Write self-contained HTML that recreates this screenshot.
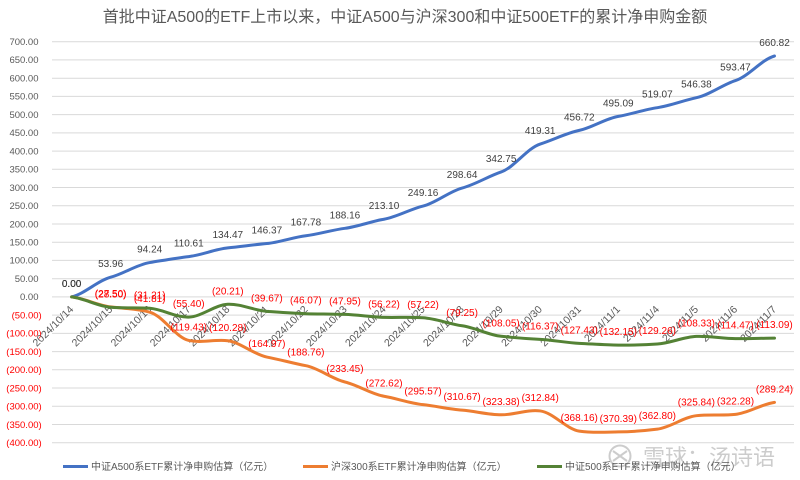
<!DOCTYPE html>
<html><head><meta charset="utf-8"><style>
html,body{margin:0;padding:0;background:#fff;}
svg{display:block;}
text{font-family:"Liberation Sans","Noto Sans CJK SC",sans-serif;}
</style></head><body>
<svg width="800" height="480" viewBox="0 0 800 480" xmlns="http://www.w3.org/2000/svg">
<rect width="800" height="480" fill="#fff"/>
<text x="405" y="22" font-size="16" fill="#595959" text-anchor="middle">首批中证A500的ETF上市以来，中证A500与沪深300和中证500ETF的累计净申购金额</text>
<g stroke="#d9d9d9" stroke-width="1">
<line x1="52" x2="794" y1="41.7" y2="41.7"/><line x1="52" x2="794" y1="59.9" y2="59.9"/><line x1="52" x2="794" y1="78.2" y2="78.2"/><line x1="52" x2="794" y1="96.4" y2="96.4"/><line x1="52" x2="794" y1="114.6" y2="114.6"/><line x1="52" x2="794" y1="132.9" y2="132.9"/><line x1="52" x2="794" y1="151.1" y2="151.1"/><line x1="52" x2="794" y1="169.3" y2="169.3"/><line x1="52" x2="794" y1="187.5" y2="187.5"/><line x1="52" x2="794" y1="205.8" y2="205.8"/><line x1="52" x2="794" y1="224" y2="224"/><line x1="52" x2="794" y1="242.2" y2="242.2"/><line x1="52" x2="794" y1="260.4" y2="260.4"/><line x1="52" x2="794" y1="278.7" y2="278.7"/><line x1="52" x2="794" y1="296.9" y2="296.9"/><line x1="52" x2="794" y1="315.1" y2="315.1"/><line x1="52" x2="794" y1="333.4" y2="333.4"/><line x1="52" x2="794" y1="351.6" y2="351.6"/><line x1="52" x2="794" y1="369.8" y2="369.8"/><line x1="52" x2="794" y1="388" y2="388"/><line x1="52" x2="794" y1="406.3" y2="406.3"/><line x1="52" x2="794" y1="424.5" y2="424.5"/><line x1="52" x2="794" y1="442.7" y2="442.7"/>
</g>
<g font-size="9.5" fill="#595959" text-anchor="end">
<text x="38.5" y="45">700.00</text><text x="38.5" y="63.2">650.00</text><text x="38.5" y="81.5">600.00</text><text x="38.5" y="99.7">550.00</text><text x="38.5" y="117.9">500.00</text><text x="38.5" y="136.2">450.00</text><text x="38.5" y="154.4">400.00</text><text x="38.5" y="172.6">350.00</text><text x="38.5" y="190.8">300.00</text><text x="38.5" y="209.1">250.00</text><text x="38.5" y="227.3">200.00</text><text x="38.5" y="245.5">150.00</text><text x="38.5" y="263.7">100.00</text><text x="38.5" y="282">50.00</text><text x="38.5" y="300.2">0.00</text>
</g>
<g font-size="9.5" fill="#ff0000" text-anchor="end">
<text x="41.7" y="318.4">(50.00)</text><text x="41.7" y="336.7">(100.00)</text><text x="41.7" y="354.9">(150.00)</text><text x="41.7" y="373.1">(200.00)</text><text x="41.7" y="391.3">(250.00)</text><text x="41.7" y="409.6">(300.00)</text><text x="41.7" y="427.8">(350.00)</text><text x="41.7" y="446">(400.00)</text>
</g>
<g font-size="10.5" fill="#595959" text-anchor="end">
<text transform="translate(74.1,310) rotate(-45)">2024/10/14</text>
<text transform="translate(113.15,310) rotate(-45)">2024/10/15</text>
<text transform="translate(152.2,310) rotate(-45)">2024/10/16</text>
<text transform="translate(191.25,310) rotate(-45)">2024/10/17</text>
<text transform="translate(230.3,310) rotate(-45)">2024/10/18</text>
<text transform="translate(269.35,310) rotate(-45)">2024/10/21</text>
<text transform="translate(308.4,310) rotate(-45)">2024/10/22</text>
<text transform="translate(347.45,310) rotate(-45)">2024/10/23</text>
<text transform="translate(386.5,310) rotate(-45)">2024/10/24</text>
<text transform="translate(425.55,310) rotate(-45)">2024/10/25</text>
<text transform="translate(464.6,310) rotate(-45)">2024/10/28</text>
<text transform="translate(503.65,310) rotate(-45)">2024/10/29</text>
<text transform="translate(542.7,310) rotate(-45)">2024/10/30</text>
<text transform="translate(581.75,310) rotate(-45)">2024/10/31</text>
<text transform="translate(620.8,310) rotate(-45)">2024/11/1</text>
<text transform="translate(659.85,310) rotate(-45)">2024/11/4</text>
<text transform="translate(698.9,310) rotate(-45)">2024/11/5</text>
<text transform="translate(737.95,310) rotate(-45)">2024/11/6</text>
<text transform="translate(777,310) rotate(-45)">2024/11/7</text>
</g>
<g transform="matrix(39.05,0,0,-0.36455,71.6,296.9)" fill="none" stroke-linecap="round" stroke-linejoin="round">
<path vector-effect="non-scaling-stroke" stroke="#4472C4" stroke-width="3" d="M0,0 C0.333,8.09 0.667,44.53 1,53.96 C1.333,63.39 1.667,88.58 2,94.24 C2.333,99.9 2.667,106.58 3,110.61 C3.333,114.64 3.667,130.89 4,134.47 C4.333,138.05 4.667,143.04 5,146.37 C5.333,149.7 5.667,163.6 6,167.78 C6.333,171.96 6.667,183.63 7,188.16 C7.333,192.69 7.667,207 8,213.1 C8.333,219.2 8.667,240.6 9,249.16 C9.333,257.72 9.667,289.28 10,298.64 C10.333,308 10.667,330.68 11,342.75 C11.333,354.82 11.667,407.91 12,419.31 C12.333,430.71 12.667,449.14 13,456.72 C13.333,464.3 13.667,488.86 14,495.09 C14.333,501.32 14.667,513.94 15,519.07 C15.333,524.2 15.667,538.94 16,546.38 C16.333,553.82 16.667,582.03 17,593.47 C17.333,604.91 17.667,650.72 18,660.82"/>
<path vector-effect="non-scaling-stroke" stroke="#ED7D31" stroke-width="3" d="M0,0 C0.333,-4.13 0.667,-23.32 1,-27.5 C1.333,-31.68 1.667,-32.62 2,-41.81 C2.333,-51 2.667,-111.58 3,-119.43 C3.333,-127.28 3.667,-115.73 4,-120.28 C4.333,-124.83 4.667,-158.12 5,-164.97 C5.333,-171.82 5.667,-181.91 6,-188.76 C6.333,-195.61 6.667,-225.06 7,-233.45 C7.333,-241.84 7.667,-266.41 8,-272.62 C8.333,-278.83 8.667,-291.77 9,-295.57 C9.333,-299.37 9.667,-307.89 10,-310.67 C10.333,-313.45 10.667,-323.16 11,-323.38 C11.333,-323.6 11.667,-308.36 12,-312.84 C12.333,-317.32 12.667,-362.41 13,-368.16 C13.333,-373.91 13.667,-370.92 14,-370.39 C14.333,-369.86 14.667,-367.26 15,-362.8 C15.333,-358.34 15.667,-329.89 16,-325.84 C16.333,-321.79 16.667,-325.94 17,-322.28 C17.333,-318.62 17.667,-294.2 18,-289.24"/>
<path vector-effect="non-scaling-stroke" stroke="#548235" stroke-width="3" d="M0,0 C0.333,-4.28 0.667,-25.38 1,-28.5 C1.333,-31.62 1.667,-28.52 2,-31.21 C2.333,-33.9 2.667,-56.5 3,-55.4 C3.333,-54.3 3.667,-21.78 4,-20.21 C4.333,-18.64 4.667,-37.08 5,-39.67 C5.333,-42.26 5.667,-45.24 6,-46.07 C6.333,-46.9 6.667,-46.94 7,-47.95 C7.333,-48.96 7.667,-55.29 8,-56.22 C8.333,-57.15 8.667,-54.92 9,-57.22 C9.333,-59.52 9.667,-74.17 10,-79.25 C10.333,-84.33 10.667,-104.34 11,-108.05 C11.333,-111.76 11.667,-114.43 12,-116.37 C12.333,-118.31 12.667,-125.85 13,-127.43 C13.333,-129.01 13.667,-131.96 14,-132.15 C14.333,-132.34 14.667,-131.64 15,-129.26 C15.333,-126.88 15.667,-109.81 16,-108.33 C16.333,-106.85 16.667,-114 17,-114.47 C17.333,-114.94 17.667,-113.3 18,-113.09"/>
</g>
<g font-size="10" fill="#404040" text-anchor="middle">
<text x="71.6" y="286.9">0.00</text><text x="71.6" y="286.9">0.00</text><text x="71.6" y="286.9">0.00</text>
<text x="110.65" y="267.2">53.96</text><text x="149.7" y="252.5">94.24</text><text x="188.75" y="246.6">110.61</text><text x="227.8" y="237.9">134.47</text><text x="266.85" y="233.5">146.37</text><text x="305.9" y="225.7">167.78</text><text x="344.95" y="218.3">188.16</text><text x="384" y="209.2">213.10</text><text x="423.05" y="196.1">249.16</text><text x="462.1" y="178">298.64</text><text x="501.15" y="162">342.75</text><text x="540.2" y="134">419.31</text><text x="579.25" y="120.4">456.72</text><text x="618.3" y="106.4">495.09</text><text x="657.35" y="97.7">519.07</text><text x="696.4" y="87.7">546.38</text><text x="735.45" y="70.6">593.47</text><text x="774.5" y="46">660.82</text>
</g>
<g font-size="10" fill="#ff0000" text-anchor="middle">
<text x="110.65" y="296.9">(27.50)</text><text x="149.7" y="302.1">(41.81)</text><text x="188.75" y="330.4">(119.43)</text><text x="227.8" y="330.8">(120.28)</text><text x="266.85" y="347">(164.97)</text><text x="305.9" y="355.7">(188.76)</text><text x="344.95" y="372">(233.45)</text><text x="384" y="386.3">(272.62)</text><text x="423.05" y="394.7">(295.57)</text><text x="462.1" y="400.2">(310.67)</text><text x="501.15" y="404.8">(323.38)</text><text x="540.2" y="401">(312.84)</text><text x="579.25" y="421.1">(368.16)</text><text x="618.3" y="421.9">(370.39)</text><text x="657.35" y="419.2">(362.80)</text><text x="696.4" y="405.7">(325.84)</text><text x="735.45" y="404.4">(322.28)</text><text x="774.5" y="392.3">(289.24)</text>
<text x="110.65" y="297.3">(28.50)</text><text x="149.7" y="298.3">(31.21)</text><text x="188.75" y="307.1">(55.40)</text><text x="227.8" y="294.3">(20.21)</text><text x="266.85" y="301.4">(39.67)</text><text x="305.9" y="303.7">(46.07)</text><text x="344.95" y="304.4">(47.95)</text><text x="384" y="307.4">(56.22)</text><text x="423.05" y="307.8">(57.22)</text><text x="462.1" y="315.8">(79.25)</text><text x="501.15" y="326.3">(108.05)</text><text x="540.2" y="329.3">(116.37)</text><text x="579.25" y="333.4">(127.43)</text><text x="618.3" y="335.1">(132.15)</text><text x="657.35" y="334">(129.26)</text><text x="696.4" y="326.4">(108.33)</text><text x="735.45" y="328.6">(114.47)</text><text x="774.5" y="328.1">(113.09)</text>
</g>
<g opacity="0.8">
<circle cx="620" cy="456" r="10.5" fill="none" stroke="#c0c0c0" stroke-width="2"/>
<path d="M613,451 L627,461 M613,461 L627,451" stroke="#c0c0c0" stroke-width="2" fill="none"/>
<text x="643" y="465" font-size="22" fill="#c0c0c0">雪球：汤诗语</text>
</g>
<g font-size="10" fill="#595959">
<line x1="63" x2="88" y1="466.5" y2="466.5" stroke="#4472C4" stroke-width="3"/>
<text x="91" y="470">中证A500系ETF累计净申购估算（亿元）</text>
<line x1="303" x2="328" y1="466.5" y2="466.5" stroke="#ED7D31" stroke-width="3"/>
<text x="331" y="470">沪深300系ETF累计净申购估算（亿元）</text>
<line x1="537" x2="562" y1="466.5" y2="466.5" stroke="#548235" stroke-width="3"/>
<text x="565" y="470">中证500系ETF累计净申购估算（亿元）</text>
</g>
</svg>
</body></html>
